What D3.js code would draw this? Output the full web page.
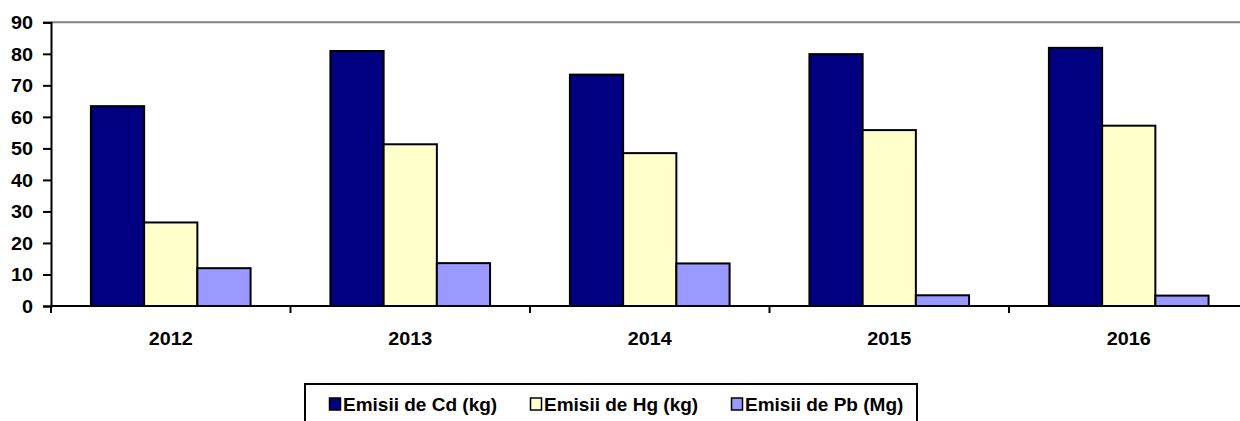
<!DOCTYPE html>
<html>
<head>
<meta charset="utf-8">
<script src="https://cdn.jsdelivr.net/npm/d3@7"></script>
<style>
  html, body { margin: 0; padding: 0; background: #fff; }
  svg { display: block; }
  text { font-family: "Liberation Sans", Arial, sans-serif; font-weight: bold; fill: #000; }
</style>
</head>
<body>
<svg id="chart" width="1240" height="421"></svg>
<script>
// Annual emissions of heavy metals
const years = ["2012", "2013", "2014", "2015", "2016"];
const seriesNames = ["Emisii de Cd (kg)", "Emisii de Hg (kg)", "Emisii de Pb (Mg)"];
const cdValues = [63.4, 80.9, 73.4, 79.9, 81.9];
const hgValues = [26.5, 51.3, 48.5, 55.8, 57.2];
const pbValues = [12.0, 13.6, 13.5, 3.4, 3.3];
const yTicks = [0, 10, 20, 30, 40, 50, 60, 70, 80, 90];
const seriesColors = ["#000080", "#FFFFCC", "#9999FF"];

const series = [cdValues, hgValues, pbValues];
const stretch = 1.1;  // horizontal widening of axis labels

const svg = d3.select("#chart");

const plot = { left: 51, right: 1248.5, top: 22.3, bottom: 306 };

const x = d3.scaleBand()
  .domain(years)
  .range([plot.left, plot.right])
  .paddingInner(0).paddingOuter(0);

// three bars per year, gap between groups = 1.5 bar widths
const step = x.bandwidth();
const barW = step / 4.5;
const xs = d3.scaleBand()
  .domain(d3.range(series.length))
  .range([0.75 * barW, 3.75 * barW])
  .padding(0);

const y = d3.scaleLinear().domain([0, 90]).range([plot.bottom, plot.top]);

// top border of plot area
svg.append("line")
  .attr("x1", plot.left).attr("x2", plot.right)
  .attr("y1", y(90)).attr("y2", y(90))
  .attr("stroke", "#808080").attr("stroke-width", 2);

// bars
series.forEach((vals, si) => {
  svg.append("g").selectAll("rect")
    .data(vals)
    .join("rect")
    .attr("x", (d, i) => x(years[i]) + xs(si))
    .attr("y", d => y(d))
    .attr("width", xs.bandwidth())
    .attr("height", d => y(0) - y(d))
    .attr("fill", seriesColors[si])
    .attr("stroke", "#000")
    .attr("stroke-width", 2);
});

// y axis
const yAxis = svg.append("g")
  .attr("transform", `translate(${plot.left},0)`)
  .call(d3.axisLeft(y).tickValues(yTicks).tickSize(8).tickPadding(10).tickFormat(d3.format("d")));
yAxis.select(".domain").attr("stroke", "#000").attr("stroke-width", 2);
yAxis.selectAll(".tick line").attr("stroke", "#000").attr("stroke-width", 2);
yAxis.selectAll(".tick text")
  .attr("font-size", 18)
  .attr("font-family", null)
  .attr("x", -18 / stretch)
  .attr("dy", "0.36em")
  .attr("transform", `scale(${stretch},1)`);

// x axis: ticks at category boundaries
const xAxisG = svg.append("g").attr("transform", `translate(0,${plot.bottom})`);
xAxisG.append("line")
  .attr("x1", plot.left).attr("x2", plot.right)
  .attr("y1", 0).attr("y2", 0)
  .attr("stroke", "#000").attr("stroke-width", 2);
const boundaries = years.map(yr => x(yr)).concat([plot.right]);
xAxisG.selectAll("line.tk")
  .data(boundaries)
  .join("line")
  .attr("class", "tk")
  .attr("x1", d => d).attr("x2", d => d)
  .attr("y1", 0).attr("y2", 7)
  .attr("stroke", "#000").attr("stroke-width", 2);
xAxisG.selectAll("text")
  .data(years)
  .join("text")
  .attr("transform", d => `translate(${x(d) + step / 2},38.5) scale(${stretch},1)`)
  .attr("text-anchor", "middle")
  .attr("font-size", 18)
  .text(d => d);

// legend
const legend = svg.append("g");
legend.append("rect")
  .attr("x", 305).attr("y", 384)
  .attr("width", 612).attr("height", 50)
  .attr("fill", "#fff").attr("stroke", "#000").attr("stroke-width", 2);
const itemSpacing = 201;
const items = legend.selectAll("g.item")
  .data(seriesNames)
  .join("g")
  .attr("class", "item")
  .attr("transform", (d, i) => `translate(${329.5 + i * itemSpacing},0)`);
items.append("rect")
  .attr("x", 0).attr("y", 398)
  .attr("width", 11).attr("height", 12)
  .attr("fill", (d, i) => seriesColors[i])
  .attr("stroke", "#000").attr("stroke-width", 1.5);
items.append("text")
  .attr("x", 13.5).attr("y", 410.5)
  .attr("font-size", 19)
  .text(d => d);
</script>
</body>
</html>
